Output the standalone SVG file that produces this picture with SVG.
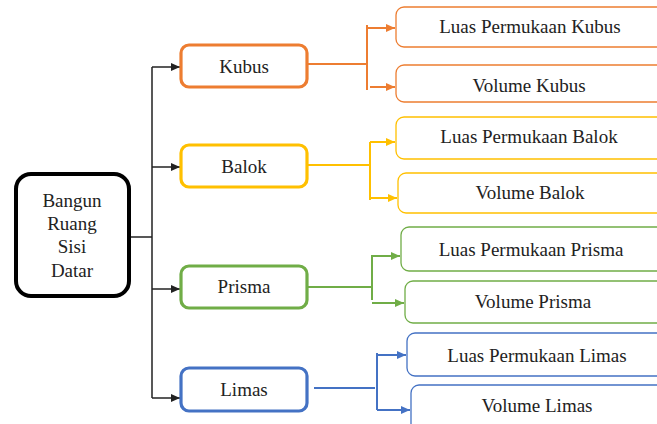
<svg xmlns="http://www.w3.org/2000/svg" width="657" height="424" viewBox="0 0 657 424">
<style>
text{font-family:"Liberation Serif","Times New Roman",serif;font-size:19px;fill:#222;text-anchor:middle}
.mid{fill:#fff;stroke-width:3.2}
.leaf{fill:#fff;stroke-width:1.3}
.c{fill:none;stroke-width:2}
.k{fill:none;stroke:#222;stroke-width:1.5}
</style>
<defs>
<marker id="ak" markerUnits="userSpaceOnUse" markerWidth="10" markerHeight="10" refX="9" refY="5" orient="auto"><path d="M0,1 L9,5 L0,9 Z" fill="#222"/></marker>
<marker id="ao" markerUnits="userSpaceOnUse" markerWidth="10" markerHeight="10" refX="9" refY="5" orient="auto"><path d="M0,1 L9,5 L0,9 Z" fill="#ED7D31"/></marker>
<marker id="ay" markerUnits="userSpaceOnUse" markerWidth="10" markerHeight="10" refX="9" refY="5" orient="auto"><path d="M0,1 L9,5 L0,9 Z" fill="#FFC000"/></marker>
<marker id="ag" markerUnits="userSpaceOnUse" markerWidth="10" markerHeight="10" refX="9" refY="5" orient="auto"><path d="M0,1 L9,5 L0,9 Z" fill="#70AD47"/></marker>
<marker id="ab" markerUnits="userSpaceOnUse" markerWidth="10" markerHeight="10" refX="9" refY="5" orient="auto"><path d="M0,1 L9,5 L0,9 Z" fill="#4472C4"/></marker>
</defs>
<rect width="657" height="424" fill="#fff"/>
<g id="connectors">
<path class="k" d="M125,237 H152 M152,67 V398"/>
<path class="k" d="M152,67 H180" marker-end="url(#ak)"/>
<path class="k" d="M152,167 H180" marker-end="url(#ak)"/>
<path class="k" d="M152,289 H180" marker-end="url(#ak)"/>
<path class="k" d="M152,398 H180" marker-end="url(#ak)"/>
<path class="c" stroke="#ED7D31" d="M308,64 H367 M367,25 V90"/>
<path class="c" stroke="#ED7D31" d="M367,28 H395" marker-end="url(#ao)"/>
<path class="c" stroke="#ED7D31" d="M370,87 H395" marker-end="url(#ao)"/>
<path class="c" stroke="#FFC000" d="M308,165 H370 M370,142 V200"/>
<path class="c" stroke="#FFC000" d="M370,142 H395" marker-end="url(#ay)"/>
<path class="c" stroke="#FFC000" d="M370,198 H397" marker-end="url(#ay)"/>
<path class="c" stroke="#70AD47" d="M308,287 H372 M372,255 V300"/>
<path class="c" stroke="#70AD47" d="M372,256 H400" marker-end="url(#ag)"/>
<path class="c" stroke="#70AD47" d="M372,303 H404" marker-end="url(#ag)"/>
<path class="c" stroke="#4472C4" d="M314,388 H375 M377,353 V410"/>
<path class="c" stroke="#4472C4" d="M377,355 H406" marker-end="url(#ab)"/>
<path class="c" stroke="#4472C4" d="M377,410 H410" marker-end="url(#ab)"/>
</g>
<g id="root">
<rect x="16" y="174" width="113" height="122" rx="15" fill="#fff" stroke="#000" stroke-width="4"/>
<text x="72" y="207">Bangun</text>
<text x="72" y="230">Ruang</text>
<text x="72" y="253">Sisi</text>
<text x="72" y="277">Datar</text>
</g>
<g id="kubus"><rect class="mid" x="181" y="45" width="126" height="42" rx="8" stroke="#ED7D31"/><text x="244" y="73">Kubus</text></g>
<g id="balok"><rect class="mid" x="181" y="145" width="126" height="42" rx="8" stroke="#FFC000"/><text x="244" y="173">Balok</text></g>
<g id="prisma"><rect class="mid" x="181" y="266" width="126" height="42" rx="8" stroke="#70AD47"/><text x="244" y="293">Prisma</text></g>
<g id="limas"><rect class="mid" x="181" y="368" width="126" height="43" rx="8" stroke="#4472C4"/><text x="244" y="396">Limas</text></g>
<g id="lp-kubus"><rect class="leaf" x="396" y="7" width="275" height="40" rx="8" stroke="#ED7D31"/><text x="530" y="33">Luas Permukaan Kubus</text></g>
<g id="v-kubus"><rect class="leaf" x="396" y="65" width="275" height="37" rx="8" stroke="#ED7D31"/><text x="529" y="92">Volume Kubus</text></g>
<g id="lp-balok"><rect class="leaf" x="396" y="117" width="275" height="42" rx="8" stroke="#FFC000"/><text x="529" y="143">Luas Permukaan Balok</text></g>
<g id="v-balok"><rect class="leaf" x="398" y="173" width="275" height="40" rx="8" stroke="#FFC000"/><text x="530" y="199">Volume Balok</text></g>
<g id="lp-prisma"><rect class="leaf" x="401" y="227" width="275" height="44" rx="8" stroke="#70AD47"/><text x="531" y="256">Luas Permukaan Prisma</text></g>
<g id="v-prisma"><rect class="leaf" x="405" y="281" width="275" height="42" rx="8" stroke="#70AD47"/><text x="533" y="308">Volume Prisma</text></g>
<g id="lp-limas"><rect class="leaf" x="407" y="333" width="275" height="43" rx="8" stroke="#4472C4"/><text x="537" y="362">Luas Permukaan Limas</text></g>
<g id="v-limas"><rect class="leaf" x="411" y="385" width="275" height="50" rx="8" stroke="#4472C4"/><text x="537" y="412">Volume Limas</text></g>
</svg>
